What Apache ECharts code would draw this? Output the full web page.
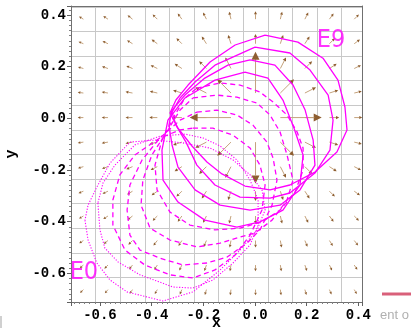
<!DOCTYPE html>
<html><head><meta charset="utf-8">
<script src="https://cdn.jsdelivr.net/npm/echarts@6/dist/echarts.min.js"></script>
<style>html,body{margin:0;padding:0;background:#fff}#c{width:411px;height:331px}</style>
</head><body><div id="c"></div>
<script>
// ---- arrow grid (field plot) ----
var arrowX = [-0.664,-0.569,-0.474,-0.378,-0.283,-0.188,-0.093,0.002,0.098,0.193,0.288,0.384];
var arrowY = [0.384,0.289,0.193,0.098,0.003,-0.092,-0.187,-0.282,-0.378,-0.473,-0.568,-0.663];
var arrowU = [
 [-0.017,-0.018,-0.019,-0.018,-0.016,-0.013,-0.007,0,0.007,0.013,0.016,0.018],
 [-0.019,-0.021,-0.021,-0.022,-0.021,-0.018,-0.011,0,0.011,0.018,0.021,0.022],
 [-0.021,-0.023,-0.024,-0.026,-0.028,-0.028,-0.022,0,0.022,0.028,0.028,0.026],
 [-0.022,-0.024,-0.027,-0.029,-0.034,-0.043,-0.053,0,0.053,0.043,0.034,0.029],
 [-0.022,-0.024,-0.027,-0.031,-0.038,-0.052,-0.160,0,0.160,0.052,0.038,0.031],
 [-0.022,-0.024,-0.027,-0.029,-0.034,-0.043,-0.053,0,0.053,0.043,0.034,0.029],
 [-0.021,-0.023,-0.024,-0.026,-0.028,-0.028,-0.022,0,0.022,0.028,0.028,0.026],
 [-0.019,-0.021,-0.021,-0.022,-0.021,-0.018,-0.011,0,0.011,0.018,0.021,0.022],
 [-0.017,-0.018,-0.019,-0.018,-0.016,-0.013,-0.007,0,0.007,0.013,0.016,0.018],
 [-0.016,-0.016,-0.016,-0.015,-0.013,-0.010,-0.005,0,0.005,0.010,0.013,0.015],
 [-0.014,-0.014,-0.013,-0.012,-0.010,-0.008,-0.004,0,0.004,0.008,0.010,0.012],
 [-0.013,-0.012,-0.011,-0.010,-0.008,-0.006,-0.003,0,0.003,0.006,0.008,0.010]
];
var arrowV = [
 [0.010,0.012,0.015,0.018,0.022,0.026,0.029,0.031,0.029,0.026,0.022,0.018],
 [0.008,0.010,0.013,0.016,0.021,0.028,0.034,0.038,0.034,0.028,0.021,0.016],
 [0.006,0.008,0.010,0.013,0.018,0.028,0.043,0.052,0.043,0.028,0.018,0.013],
 [0.003,0.004,0.005,0.007,0.011,0.022,0.053,0.160,0.053,0.022,0.011,0.007],
 [0,0,0,0,0,0,0,0,0,0,0,0],
 [-0.003,-0.004,-0.005,-0.007,-0.011,-0.022,-0.053,-0.160,-0.053,-0.022,-0.011,-0.007],
 [-0.006,-0.008,-0.010,-0.013,-0.018,-0.028,-0.043,-0.052,-0.043,-0.028,-0.018,-0.013],
 [-0.008,-0.010,-0.013,-0.016,-0.021,-0.028,-0.034,-0.038,-0.034,-0.028,-0.021,-0.016],
 [-0.010,-0.012,-0.015,-0.018,-0.022,-0.026,-0.029,-0.031,-0.029,-0.026,-0.022,-0.018],
 [-0.011,-0.013,-0.016,-0.019,-0.021,-0.024,-0.027,-0.027,-0.027,-0.024,-0.021,-0.019],
 [-0.012,-0.014,-0.016,-0.018,-0.021,-0.023,-0.024,-0.024,-0.024,-0.023,-0.021,-0.018],
 [-0.013,-0.014,-0.016,-0.017,-0.019,-0.021,-0.022,-0.022,-0.022,-0.021,-0.019,-0.017]
];

// ---- curves E0..E9 ----
var curveNames = ['E0','E1','E2','E3','E4','E5','E6','E7','E8','E9'];
var curveStyles = ['dotted','dotted','dashed','dashed','dashed','dashed','solid','solid','solid','solid'];
var E0 = [[-0.658,-0.394],[-0.646,-0.471],[-0.612,-0.560],[-0.561,-0.626],[-0.495,-0.672],[-0.356,-0.707],[-0.240,-0.672],[-0.135,-0.587],[-0.058,-0.510],[0.008,-0.432],[0.039,-0.355],[0.027,-0.277],[-0.019,-0.219],[-0.085,-0.161],[-0.174,-0.115],[-0.279,-0.095],[-0.387,-0.084],[-0.484,-0.092],[-0.561,-0.173],[-0.612,-0.266],[-0.646,-0.336]];
var E1 = [[-0.608,-0.328],[-0.600,-0.432],[-0.581,-0.502],[-0.530,-0.556],[-0.445,-0.606],[-0.317,-0.653],[-0.240,-0.657],[-0.163,-0.626],[-0.085,-0.560],[-0.019,-0.490],[0.012,-0.413],[0.012,-0.316],[-0.019,-0.239],[-0.070,-0.161],[-0.135,-0.107],[-0.201,-0.076],[-0.271,-0.061],[-0.368,-0.069],[-0.465,-0.103],[-0.542,-0.181],[-0.588,-0.250]];
var E2 = [[-0.240,-0.038],[-0.163,-0.038],[-0.085,-0.065],[-0.019,-0.115],[0.019,-0.181],[0.039,-0.258],[0.027,-0.355],[-0.019,-0.452],[-0.077,-0.529],[-0.155,-0.587],[-0.240,-0.618],[-0.329,-0.606],[-0.426,-0.568],[-0.503,-0.510],[-0.550,-0.413],[-0.550,-0.316],[-0.523,-0.219],[-0.465,-0.142],[-0.368,-0.076],[-0.290,-0.045]];
var E3 = [[-0.225,0.024],[-0.147,0.032],[-0.070,0.013],[-0.008,-0.026],[0.046,-0.092],[0.070,-0.154],[0.085,-0.239],[0.066,-0.336],[0.019,-0.432],[-0.031,-0.483],[-0.108,-0.537],[-0.186,-0.560],[-0.279,-0.568],[-0.368,-0.541],[-0.445,-0.510],[-0.484,-0.452],[-0.495,-0.355],[-0.484,-0.258],[-0.437,-0.161],[-0.368,-0.076],[-0.290,-0.007]];
var E4 = [[-0.240,0.079],[-0.147,0.090],[-0.070,0.082],[0.008,0.059],[0.058,0.013],[0.097,-0.053],[0.124,-0.142],[0.147,-0.239],[0.124,-0.316],[0.066,-0.394],[0.000,-0.444],[-0.058,-0.459],[-0.135,-0.483],[-0.225,-0.498],[-0.329,-0.471],[-0.406,-0.425],[-0.441,-0.336],[-0.434,-0.239],[-0.399,-0.142],[-0.337,-0.045],[-0.290,0.032]];
var E5 = [[-0.225,0.117],[-0.135,0.137],[-0.058,0.129],[0.019,0.102],[0.070,0.063],[0.124,0.013],[0.163,-0.053],[0.186,-0.115],[0.186,-0.200],[0.155,-0.285],[0.097,-0.355],[0.027,-0.401],[-0.058,-0.425],[-0.155,-0.432],[-0.252,-0.413],[-0.329,-0.363],[-0.379,-0.277],[-0.387,-0.181],[-0.360,-0.084],[-0.310,0.013],[-0.271,0.079]];
var E6 = [[-0.039,0.179],[0.050,0.156],[0.108,0.071],[0.151,-0.038],[0.186,-0.142],[0.174,-0.258],[0.108,-0.355],[0.019,-0.401],[-0.070,-0.421],[-0.194,-0.394],[-0.298,-0.324],[-0.356,-0.239],[-0.360,-0.123],[-0.337,-0.007],[-0.271,0.079],[-0.155,0.148]];
var E7 = [[-0.019,0.226],[0.077,0.206],[0.147,0.129],[0.194,0.032],[0.225,-0.084],[0.232,-0.181],[0.174,-0.277],[0.097,-0.336],[-0.019,-0.355],[-0.135,-0.336],[-0.232,-0.277],[-0.298,-0.189],[-0.321,-0.103],[-0.333,-0.026],[-0.321,0.032],[-0.271,0.090],[-0.194,0.156],[-0.105,0.206]];
var E8 = [[0.000,0.276],[0.135,0.253],[0.213,0.187],[0.283,0.090],[0.302,-0.007],[0.290,-0.123],[0.232,-0.212],[0.135,-0.289],[0.058,-0.309],[-0.058,-0.305],[-0.155,-0.258],[-0.225,-0.181],[-0.267,-0.092],[-0.306,-0.026],[-0.321,0.024],[-0.290,0.079],[-0.232,0.141],[-0.155,0.206]];
var E9 = [[0.039,0.322],[0.166,0.295],[0.263,0.233],[0.321,0.148],[0.348,0.044],[0.356,-0.045],[0.317,-0.130],[0.232,-0.208],[0.135,-0.258],[0.058,-0.277],[-0.039,-0.262],[-0.128,-0.215],[-0.186,-0.169],[-0.244,-0.107],[-0.298,-0.038],[-0.329,0.021],[-0.306,0.071],[-0.259,0.129],[-0.174,0.218],[-0.077,0.284]];
var curves = [E0,E1,E2,E3,E4,E5,E6,E7,E8,E9];
var labelE9 = [0.294, 0.300];
var labelE0 = [-0.662, -0.595];

// ---- axes ----
var xMin = -0.712, xMax = 0.414, yMin = -0.711, yMax = 0.435;
var cellCountX = 11.83, cellCountY = 12.04;

var arrowData = [];
for (var j = 0; j < arrowY.length; j++) {
  for (var i = 0; i < arrowX.length; i++) {
    arrowData.push([arrowX[i], arrowY[j], arrowU[j][i], arrowV[j][i]]);
  }
}

var dashMap = {dotted: [1.2, 1.6], dashed: [5, 3.5], solid: 'solid'};
var series = [];
series.push({
  type: 'custom', xAxisIndex: 0, yAxisIndex: 0, data: arrowData, silent: true, z: 3,
  renderItem: function (params, api) {
    var x = api.value(0), y = api.value(1), u = api.value(2), v = api.value(3);
    var p0 = api.coord([x, y]), p1 = api.coord([x + u, y + v]);
    var dx = p1[0] - p0[0], dy = p1[1] - p0[1];
    var L = Math.sqrt(dx * dx + dy * dy);
    if (L < 0.5) return null;
    var ux = dx / L, uy = dy / L;
    var h = 1.8 + 0.15 * L, w = h * 0.5;
    var bx = p1[0] - ux * h, by = p1[1] - uy * h;
    return {type: 'group', children: [
      {type: 'line', shape: {x1: p0[0], y1: p0[1], x2: bx, y2: by}, style: {stroke: '#c4a27c', lineWidth: 1}},
      {type: 'polygon', shape: {points: [[p1[0], p1[1]], [bx - uy * w, by + ux * w], [bx + uy * w, by - ux * w]]}, style: {fill: '#8e5e30'}}
    ]};
  }
});
for (var k = 0; k < curves.length; k++) {
  var pts = curves[k].slice(); pts.push(curves[k][0]);
  var st = curveStyles[k];
  series.push({
    type: 'line', name: curveNames[k], xAxisIndex: 0, yAxisIndex: 0, data: pts, symbol: 'none', silent: true, z: 4,
    lineStyle: {color: '#ff00ff', width: st === 'dotted' ? 1.1 : 1.3, type: dashMap[st]}
  });
}
series.push({
  type: 'scatter', xAxisIndex: 0, yAxisIndex: 0, symbolSize: 0, silent: true, z: 5,
  data: [{value: labelE9, name: 'E9'}, {value: labelE0, name: 'E0'}],
  label: {show: true, position: 'inside', formatter: '{b}', color: '#ff00ff',
    fontFamily: "'Liberation Sans Narrow','DejaVu Sans Condensed',sans-serif", fontSize: 25}
});

var fmt = function (v) {
  var q = v / 0.2;
  if (Math.abs(q - Math.round(q)) > 1e-6) return '';
  return (Math.round(q) * 0.2).toFixed(1);
};
var labStyle = {fontFamily: "'Liberation Mono','DejaVu Sans Mono',monospace", fontWeight: 'bold', fontSize: 14, color: '#000', formatter: fmt};

var chart = echarts.init(document.getElementById('c'), null, {renderer: 'canvas'});
chart.setOption({
  animation: false,
  grid: {left: 71, top: 6, right: 49, bottom: 29, containLabel: false, outerBoundsMode: 'none'},
  xAxis: [
    {type: 'value', min: xMin, max: xMax, splitNumber: 5, position: 'bottom',
     name: 'x', nameLocation: 'middle', nameGap: 14, nameMoveOverlap: false,
     nameTextStyle: {fontFamily: "'Liberation Mono',monospace", fontWeight: 'bold', fontSize: 15, color: '#000', verticalAlign: 'top'},
     axisLine: {show: true, onZero: false, lineStyle: {color: '#707070', width: 1}},
     axisTick: {show: true, length: 4, lineStyle: {color: '#606060'}},
     minorTick: {show: true, splitNumber: 10, length: 2, lineStyle: {color: '#808080'}},
     axisLabel: Object.assign({margin: 6}, labStyle),
     splitLine: {show: false}},
    {type: 'value', min: 0, max: cellCountX, interval: 1, position: 'top',
     axisLine: {show: true, onZero: false, lineStyle: {color: '#707070', width: 1}},
     axisTick: {show: false}, axisLabel: {show: false},
     splitLine: {show: true, lineStyle: {color: '#c8c8c8', width: 1}}}
  ],
  yAxis: [
    {type: 'value', min: yMin, max: yMax, splitNumber: 5, position: 'left',
     name: 'y', nameLocation: 'middle', nameGap: 52, nameRotate: 90, nameMoveOverlap: false,
     nameTextStyle: {fontFamily: "'Liberation Mono',monospace", fontWeight: 'bold', fontSize: 15, color: '#000'},
     axisLine: {show: true, onZero: false, lineStyle: {color: '#707070', width: 1}},
     axisTick: {show: true, length: 4, lineStyle: {color: '#606060'}},
     minorTick: {show: true, splitNumber: 10, length: 2, lineStyle: {color: '#808080'}},
     axisLabel: Object.assign({margin: 5}, labStyle),
     splitLine: {show: false}},
    {type: 'value', min: 0, max: cellCountY, interval: 1, position: 'right',
     axisLine: {show: true, onZero: false, lineStyle: {color: '#707070', width: 1}},
     axisTick: {show: false}, axisLabel: {show: false},
     splitLine: {show: true, lineStyle: {color: '#c8c8c8', width: 1}}}
  ],
  graphic: [
    {type: 'line', shape: {x1: 382, y1: 294, x2: 411, y2: 294}, style: {stroke: '#d9607a', lineWidth: 3}},
    {type: 'text', left: 380, top: 309, style: {text: 'ent o', fill: '#b0b0b0', font: '13px "Liberation Sans", sans-serif'}},
    {type: 'line', shape: {x1: 1, y1: 316, x2: 1, y2: 328}, style: {stroke: '#c0c0c0', lineWidth: 1.5}}
  ],
  series: series
});
</script></body></html>
